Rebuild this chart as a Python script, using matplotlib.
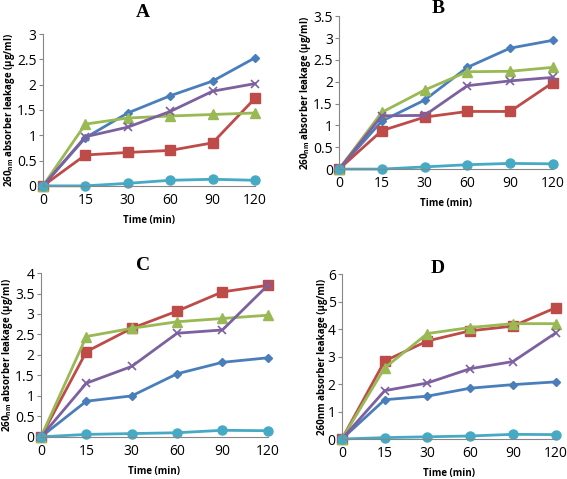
import matplotlib
matplotlib.use("Agg")
import matplotlib.pyplot as plt

times = ["0", "15", "30", "60", "90", "120"]

# panel A
a_blue = [0, 0.95, 1.44, 1.78, 2.07, 2.53]
a_red = [0, 0.61, 0.66, 0.70, 0.85, 1.73]
a_green = [0, 1.22, 1.34, 1.38, 1.41, 1.44]
a_purple = [0, 0.97, 1.16, 1.47, 1.87, 2.02]
a_cyan = [0, 0.0, 0.05, 0.11, 0.13, 0.11]

# panel B
b_blue = [0, 1.10, 1.58, 2.33, 2.77, 2.95]
b_red = [0, 0.88, 1.19, 1.32, 1.32, 1.98]
b_green = [0, 1.30, 1.81, 2.23, 2.24, 2.33]
b_purple = [0, 1.22, 1.23, 1.91, 2.02, 2.10]
b_cyan = [0, 0.0, 0.05, 0.10, 0.13, 0.12]

# panel C
c_blue = [0, 0.87, 1.00, 1.54, 1.82, 1.93]
c_red = [0, 2.08, 2.65, 3.07, 3.54, 3.70]
c_green = [0, 2.45, 2.65, 2.81, 2.89, 2.97]
c_purple = [0, 1.31, 1.72, 2.53, 2.61, 3.70]
c_cyan = [0, 0.06, 0.08, 0.10, 0.16, 0.15]

# panel D
d_blue = [0, 1.43, 1.56, 1.85, 1.98, 2.08]
d_red = [0, 2.84, 3.57, 3.94, 4.11, 4.78]
d_green = [0, 2.59, 3.84, 4.06, 4.20, 4.20]
d_purple = [0, 1.76, 2.04, 2.56, 2.82, 3.86]
d_cyan = [0, 0.05, 0.08, 0.11, 0.17, 0.16]

colors = {"blue": "#4A7EBB", "red": "#BE4B48", "green": "#98B954",
          "purple": "#7D60A0", "cyan": "#46AAC5"}
markers = {"blue": "D", "red": "s", "green": "^", "purple": "x", "cyan": "o"}
msize = {"blue": 4.5, "red": 6.5, "green": 6.5, "purple": 6, "cyan": 6.5}

ylab_sub = "260$_{\\mathregular{nm}}$ absorber leakage (µg/ml)"
ylab_plain = "260nm absorber leakage (µg/ml)"

# title, axes rect, ymax, step, series, ylabel, title x, title y
panels = [
    ("A", [0.0758, 0.612, 0.374, 0.317], 3, 0.5,
     dict(blue=a_blue, red=a_red, green=a_green, purple=a_purple, cyan=a_cyan), ylab_sub, 0.252, 0.974),
    ("B", [0.598, 0.647, 0.377, 0.319], 3.5, 0.5,
     dict(blue=b_blue, red=b_red, green=b_green, purple=b_purple, cyan=b_cyan), ylab_sub, 0.772, 0.982),
    ("C", [0.0723, 0.088, 0.40, 0.342], 4, 0.5,
     dict(blue=c_blue, red=c_red, green=c_green, purple=c_purple, cyan=c_cyan), ylab_sub, 0.252, 0.446),
    ("D", [0.603, 0.0835, 0.377, 0.344], 6, 1,
     dict(blue=d_blue, red=d_red, green=d_green, purple=d_purple, cyan=d_cyan), ylab_plain, 0.772, 0.44),
]

plt.rcParams['font.family'] = ['Open Sans', 'DejaVu Sans']

fig = plt.figure(figsize=(5.67, 4.79), dpi=100)

for title, rect, ymax, step, series, ylab, tx, ty in panels:
    ax = fig.add_axes(rect)
    x = range(len(times))
    for key in ["blue", "red", "green", "purple", "cyan"]:
        kw = dict(color=colors[key], lw=2, marker=markers[key], ms=msize[key])
        if key == "purple":
            kw["mew"] = 1.2
        ax.plot(x, series[key], **kw)
    ax.set_xlim(0, len(times) - 1)
    ax.set_ylim(0, ymax)
    yt = [i * step for i in range(int(round(ymax / step)) + 1)]
    ax.set_yticks(yt)
    ax.set_yticklabels(["%g" % v for v in yt])
    ax.set_xticks(list(x))
    ax.set_xticklabels(times)
    ax.tick_params(axis="y", length=3, color="#868686", labelsize=10, pad=1.5)
    ax.tick_params(axis="x", length=0, labelsize=10, pad=5)
    for s in ["top", "right"]:
        ax.spines[s].set_visible(False)
    ax.spines["left"].set_color("#868686")
    ax.spines["bottom"].set_color("#868686")
    for line in ax.lines:
        line.set_clip_on(False)
    ax.set_xlabel("Time (min)", fontsize=7, fontweight="bold", labelpad=5)
    ax.set_ylabel(ylab, fontsize=7, fontweight="bold", labelpad=0)
    fig.text(tx, ty, title, ha="center", va="center",
             fontsize=14, fontweight="bold", fontfamily="Liberation Serif")

fig.savefig("out.png", dpi=100)
